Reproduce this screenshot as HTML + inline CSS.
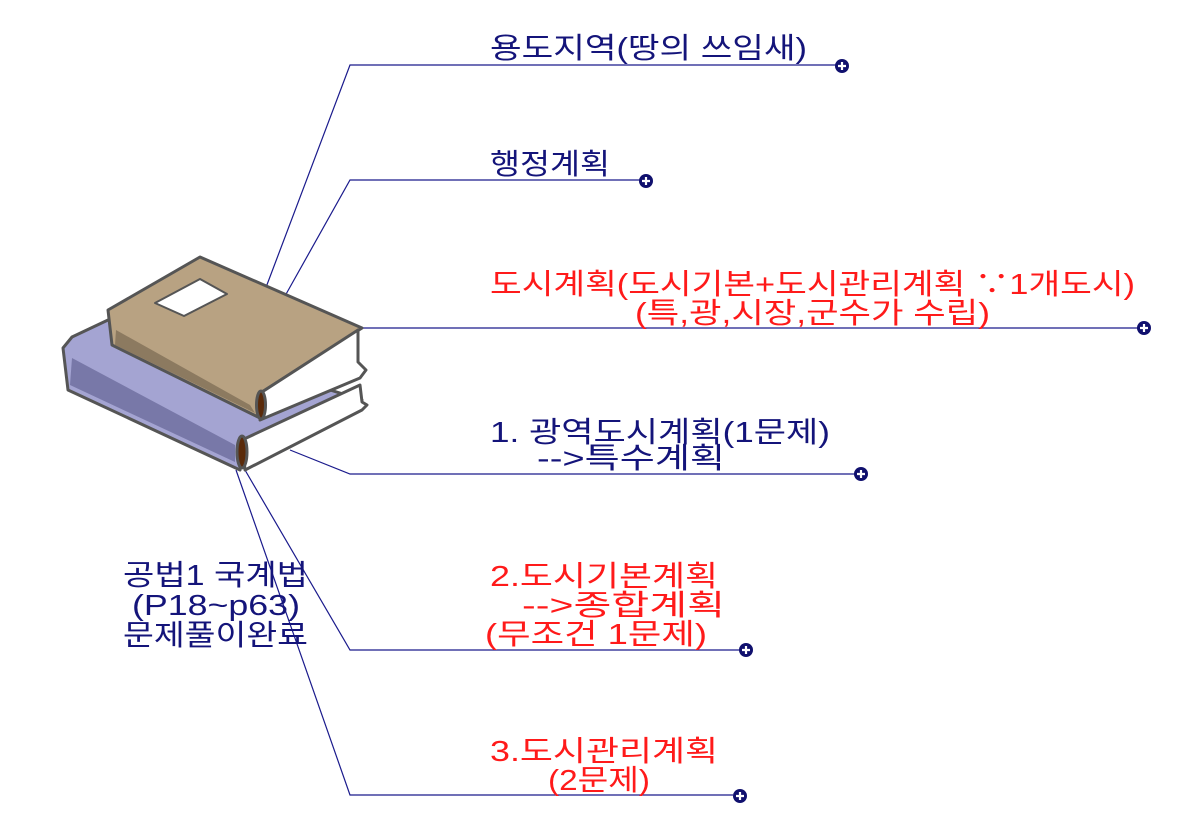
<!DOCTYPE html>
<html><head><meta charset="utf-8"><style>
html,body{margin:0;padding:0;background:#fff;}
svg{display:block;}
text{font-family:"Liberation Sans","Noto Sans CJK KR","NanumGothic",sans-serif;font-size:29px;}
.b{fill:#14147a;} .r{fill:#ff1a1a;}
</style></head><body>
<svg width="1195" height="829" viewBox="0 0 1195 829" xmlns="http://www.w3.org/2000/svg">
<g stroke="#1a1a8c" stroke-width="1.2" fill="none">
<polyline points="265,290 350,65 836,65"/>
<polyline points="285,296 350,180 640,180"/>
<polyline points="360,328 1138,328"/>
<polyline points="290,450 350,474 855,474"/>
<polyline points="245,470 350,650 740,650"/>
<polyline points="236,470 350,795 733,795"/>
</g>
<g fill="#10106e">
<circle cx="842" cy="66" r="7"/><circle cx="646" cy="181" r="7"/><circle cx="1144" cy="328" r="7"/>
<circle cx="861" cy="474" r="7"/><circle cx="746" cy="650" r="7"/><circle cx="740" cy="796" r="7"/>
</g>
<g stroke="#fff" stroke-width="2.2">
<path d="M838,66h8M842,62v8"/><path d="M642,181h8M646,177v8"/><path d="M1140,328h8M1144,324v8"/>
<path d="M857,474h8M861,470v8"/><path d="M742,650h8M746,646v8"/><path d="M736,796h8M740,792v8"/>
</g>
<!-- books -->
<g stroke="#555" stroke-width="3" stroke-linejoin="round">
<path d="M63,348 L72,337 L108,320 L362,400 L242,440 L240,470 L68,390 Z" fill="#a4a4d2"/>
<path d="M72,358 L235,445 L235,462 L70,385 Z" fill="#7878a8" stroke="none"/>
<path d="M242,440 L360,385 L362,402 L367,405 L362,410 L245,470 Z" fill="#fff"/>
<ellipse cx="242" cy="452" rx="5" ry="16" fill="#5a2a0a"/>
<path d="M108,310 L200,257 L362,328 L262,392 L260,418 L112,345 Z" fill="#b8a282"/>
<path d="M116,330 L250,405 L255,413 L115,345 Z" fill="#8c7a60" stroke="none"/>
<path d="M262,392 L358,330 L358,362 L366,370 L360,378 L260,420 Z" fill="#fff"/>
<ellipse cx="261" cy="405" rx="4.5" ry="14" fill="#5a2a0a"/>
<path d="M155,303 L200,279 L227,294 L184,316 Z" fill="#fff" stroke-width="2"/>
</g>
<text class="b" x="490" y="58" textLength="317" lengthAdjust="spacingAndGlyphs">용도지역(땅의 쓰임새)</text>
<text class="b" x="490" y="174" textLength="120" lengthAdjust="spacingAndGlyphs">행정계획</text>
<text class="r" x="490" y="294" textLength="645" lengthAdjust="spacingAndGlyphs">도시계획(도시기본+도시관리계획 ∵1개도시)</text>
<text class="r" x="635" y="323" textLength="355" lengthAdjust="spacingAndGlyphs">(특,광,시장,군수가 수립)</text>
<text class="b" x="490" y="442" textLength="340" lengthAdjust="spacingAndGlyphs">1. 광역도시계획(1문제)</text>
<text class="b" x="537" y="468" textLength="188" lengthAdjust="spacingAndGlyphs">-->특수계획</text>
<text class="r" x="490" y="586" textLength="228" lengthAdjust="spacingAndGlyphs">2.도시기본계획</text>
<text class="r" x="522" y="615" textLength="203" lengthAdjust="spacingAndGlyphs">-->종합계획</text>
<text class="r" x="485" y="644" textLength="222" lengthAdjust="spacingAndGlyphs">(무조건 1문제)</text>
<text class="r" x="490" y="761" textLength="228" lengthAdjust="spacingAndGlyphs">3.도시관리계획</text>
<text class="r" x="548" y="790" textLength="102" lengthAdjust="spacingAndGlyphs">(2문제)</text>
<text class="b" x="123" y="585" textLength="185" lengthAdjust="spacingAndGlyphs">공법1 국계법</text>
<text class="b" x="132" y="615" textLength="168" lengthAdjust="spacingAndGlyphs">(P18~p63)</text>
<text class="b" x="123" y="645" textLength="185" lengthAdjust="spacingAndGlyphs">문제풀이완료</text>
</svg>
</body></html>
